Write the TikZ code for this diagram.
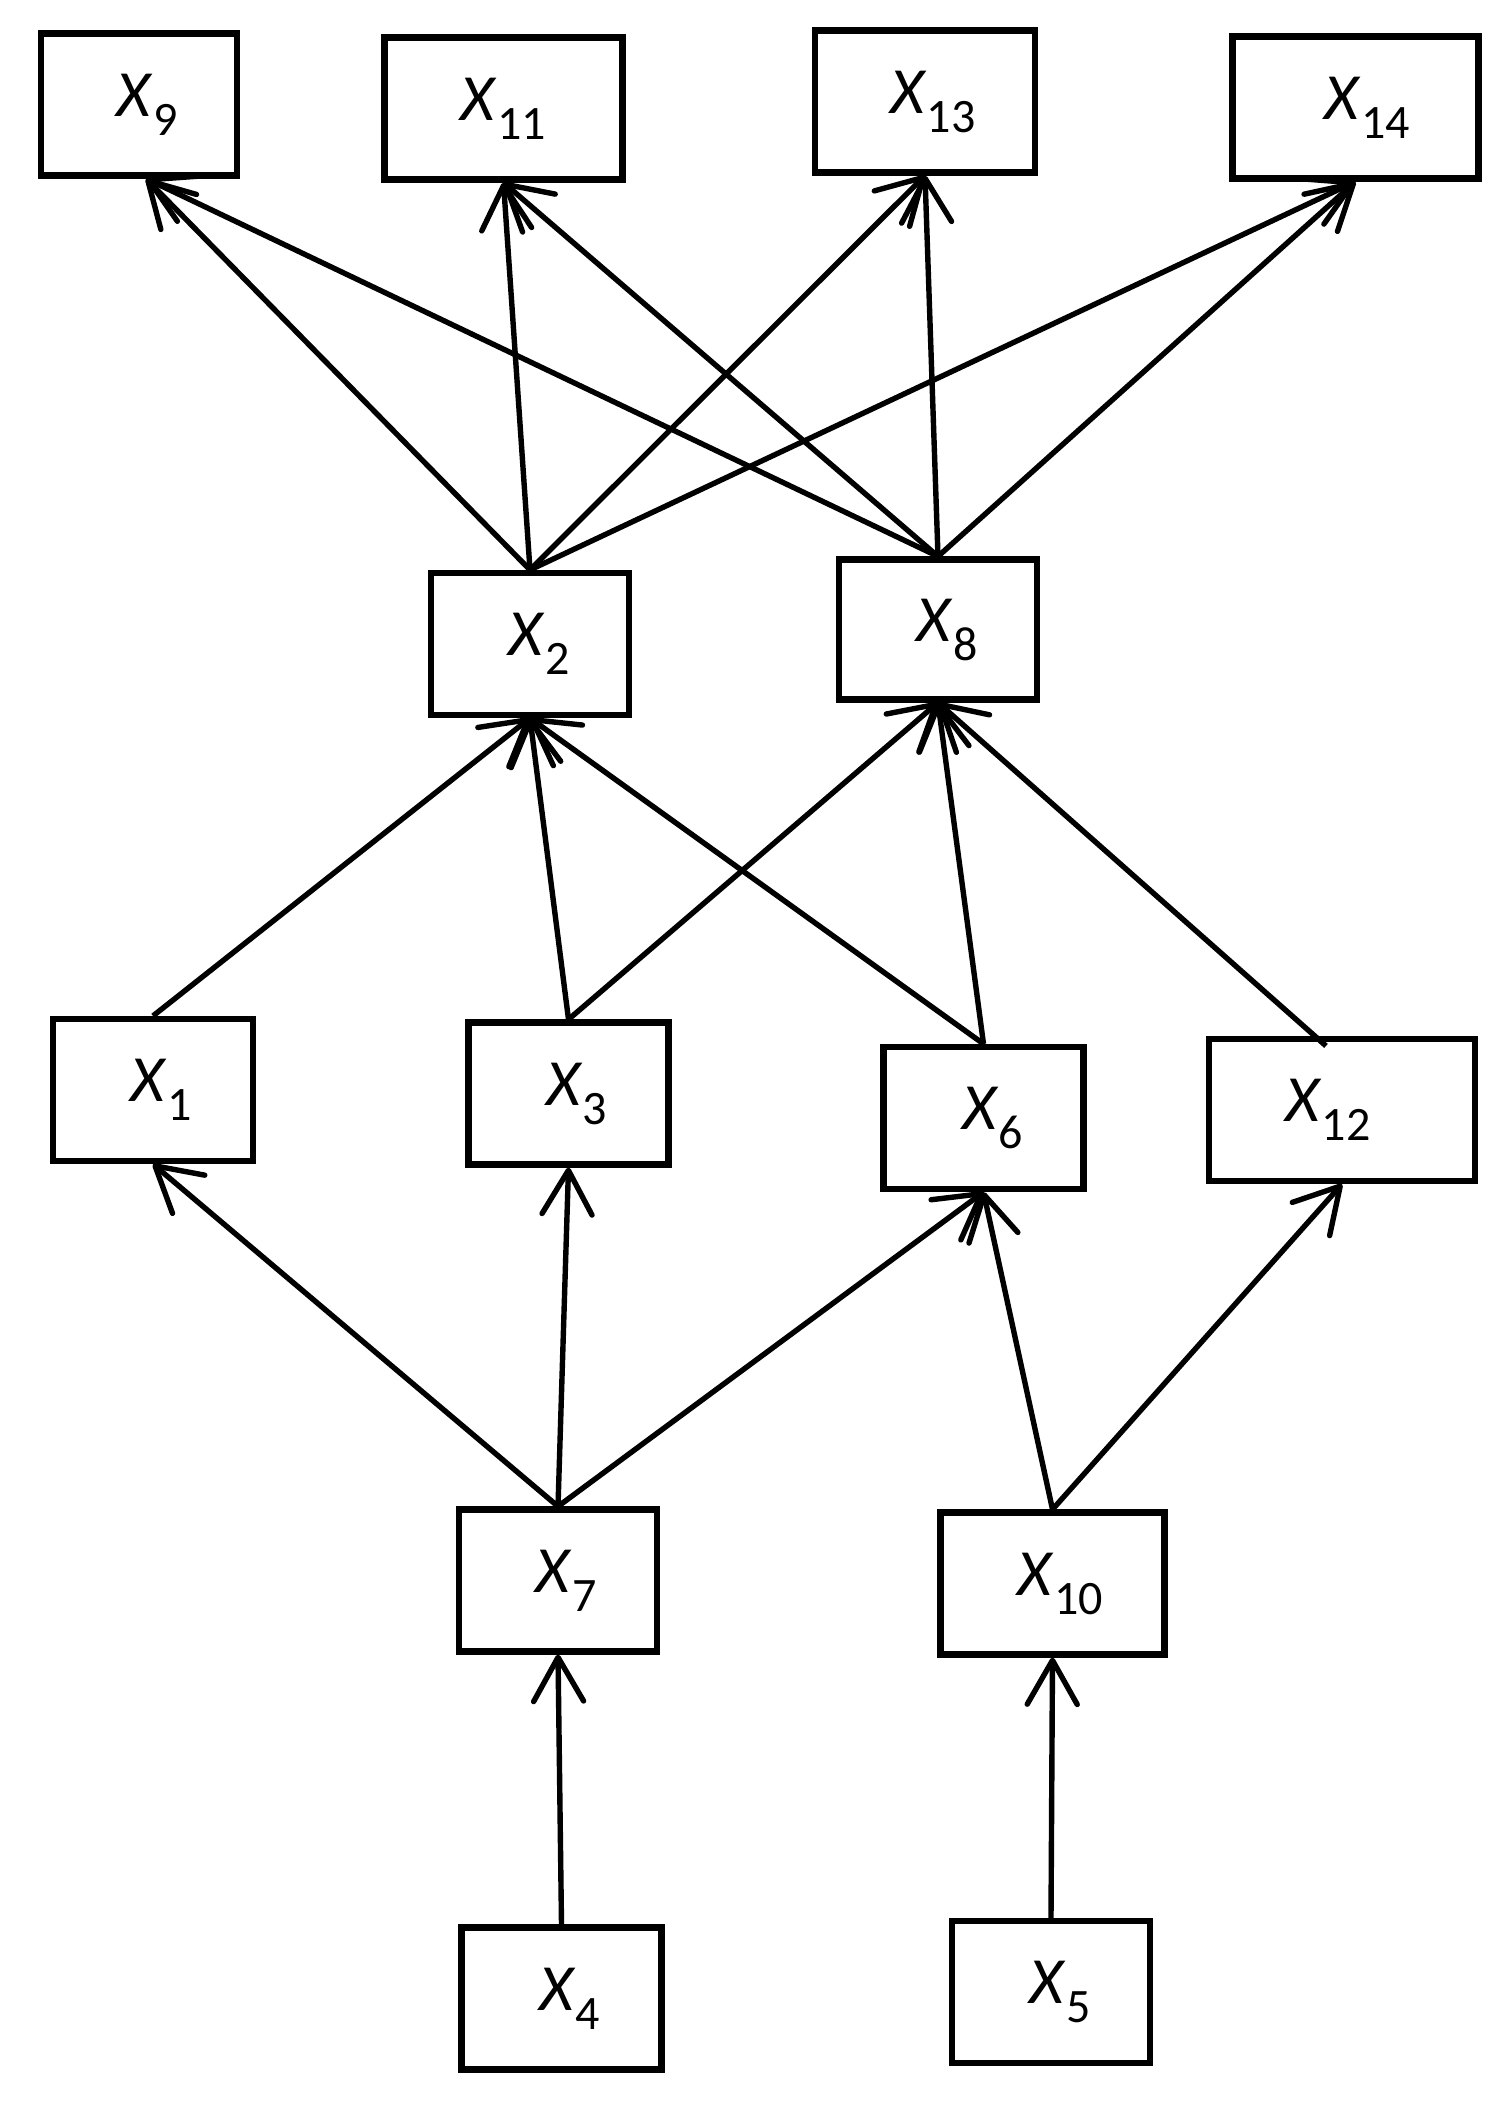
\documentclass[tikz,border=0pt]{standalone}
\usepackage{fontspec}
\setmainfont{Carlito}
\usetikzlibrary{arrows.meta}
\newcommand{\vx}[2][0pt]{\hspace*{#1}\textit{X}\raisebox{-9.5pt}{\fontsize{24}{24}\selectfont #2}}
\newcommand{\vxr}[2][0pt]{\textit{X}\raisebox{-9.5pt}{\fontsize{24}{24}\selectfont #2}\hspace*{#1}}
\tikzset{
  bx/.style={draw, line width=3.1pt, inner sep=0pt, minimum height=71pt,
    font=\fontsize{33}{33}\selectfont},
  ar/.style={line width=2.7pt, -{Straight Barb[length=22pt, width=25pt, round]}}
}
\begin{document}
\begin{tikzpicture}[x=0.5pt, y=-0.5pt]
\useasboundingbox (0,0) rectangle (1508,2101);
% top row
\node[bx, minimum width=98pt]  (x9)  at (139,104.5)   {\vx[8pt]{9}};
\node[bx, minimum width=119pt] (x11) at (503.5,108.5) {\vx{11}};
\node[bx, minimum width=110pt] (x13) at (925,101.5)   {\vx[8pt]{13}};
\node[bx, minimum width=123pt] (x14) at (1355.5,107.5){\vx[12pt]{14}};
% second row
\node[bx, minimum width=99pt]  (x2)  at (530,644)   {\vx[9pt]{2}};
\node[bx, minimum width=99pt, minimum height=70pt] (x8) at (938,629.5) {\vx[9pt]{8}};
% third row
\node[bx, minimum width=100pt] (x1)  at (153,1090)    {\vx[8pt]{1}};
\node[bx, minimum width=100pt] (x3)  at (568.5,1093.5){\vx[8pt]{3}};
\node[bx, minimum width=100pt] (x6)  at (983.5,1118)  {\vx[9pt]{6}};
\node[bx, minimum width=133pt] (x12) at (1342,1110)   {\vxr[14pt]{12}};
% fourth row
\node[bx, minimum width=99pt]  (x7)  at (558,1580.5)  {\vx[8pt]{7}};
\node[bx, minimum width=112pt] (x10) at (1052.5,1583.5){\vx[8pt]{10}};
% bottom row
\node[bx, minimum width=100pt] (x4)  at (561.5,1998.5){\vx[8pt]{4}};
\node[bx, minimum width=99pt]  (x5)  at (1051,1992)   {\vx[9pt]{5}};
% edges to top row
\draw[ar] (x2.north) -- ([xshift=3.5pt]x9.south);
\draw[ar] (x2.north) -- (x11.south);
\draw[ar] (x2.north) -- (x13.south);
\draw[ar] (x2.north) -- (x14.south);
\draw[ar] (x8.north) -- ([xshift=3.5pt]x9.south);
\draw[ar] (x8.north) -- (x11.south);
\draw[ar] (x8.north) -- (x13.south);
\draw[ar] (x8.north) -- (x14.south);
% edges to second row
\draw[ar] (x1.north) -- (x2.south);
\draw[ar] (x3.north) -- (x2.south);
\draw[ar] (x6.north) -- (x2.south);
\draw[ar] (x3.north) -- (x8.south);
\draw[ar] (x6.north) -- (x8.south);
\draw[ar] ([xshift=-8pt,yshift=-5pt]x12.north) -- (x8.south);
% edges to third row
\draw[ar] (x7.north) -- (x1.south);
\draw[ar] (x7.north) -- (x3.south);
\draw[ar] (x7.north) -- (x6.south);
\draw[ar] (x10.north) -- (x6.south);
\draw[ar] (x10.north) -- (x12.south);
% bottom edges
\draw[ar] (x4.north) -- (x7.south);
\draw[ar] (x5.north) -- (x10.south);
\end{tikzpicture}
\end{document}
